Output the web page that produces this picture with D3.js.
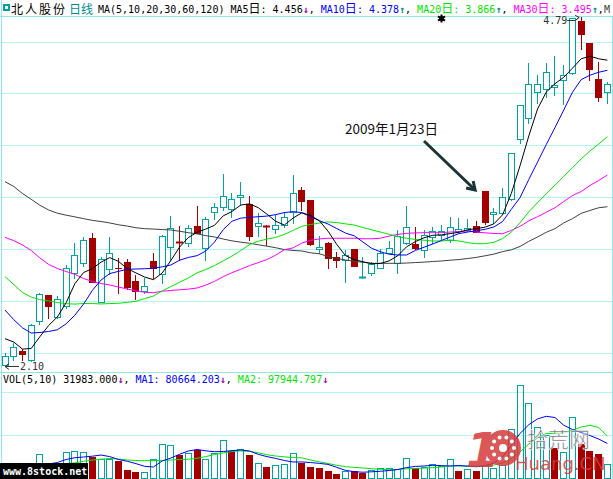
<!DOCTYPE html>
<html><head><meta charset="utf-8">
<script src="https://cdn.jsdelivr.net/npm/d3@7"></script>
<style>body{margin:0;background:#fff;}svg{display:block;}</style>
</head><body>
<svg id="c" width="613" height="479"></svg>
<script>
const stockName = "北人股份";
const periodName = "日线";
const maParams = "MA(5,10,20,30,60,120)";
const maLabels = ["MA5", "MA10", "MA20", "MA30"];
const maLast = ["4.456", "4.378", "3.866", "3.495"];
const maArrows = ["↓", "↑", "↑", "↑"];
const maMore = "M";
const volLabel = "VOL(5,10)";
const volLast = ["31983.000", "80664.203", "97944.797"];
const volNames = ["", "MA1", "MA2"];
const annotation = "2009年1月23日";
const annotIndex = 55;
const highLabel = "4.79", highIndex = 66;
const lowLabel = "2.10", lowIndex = 0;

const open  = [2.108,2.177,2.215,2.146,2.449,2.647,2.48,2.564,2.814,2.896,3.086,2.595,2.845,2.856,2.901,2.755,2.68,2.909,2.806,3.014,3.058,3.05,3.178,3.007,3.284,3.327,3.307,3.40,3.348,3.18,3.175,3.153,3.186,3.284,3.456,3.379,2.999,3.05,2.937,2.916,2.999,2.78,2.814,2.853,2.968,2.896,3.045,3.04,2.994,3.091,3.109,3.071,3.142,3.148,3.178,3.448,3.271,3.276,3.384,3.846,4.008,4.213,4.234,4.247,4.303,4.359,4.76,4.586,4.309,4.213];
const high  = [2.20,2.275,2.23,2.42,2.66,2.65,2.64,2.878,3.045,3.096,3.122,2.942,3.096,2.93,2.922,2.80,2.775,2.973,3.11,3.255,3.178,3.186,3.333,3.25,3.353,3.579,3.435,3.52,3.41,3.276,3.186,3.263,3.288,3.571,3.48,3.379,3.101,3.058,2.98,2.994,3.0,2.937,2.903,2.999,3.063,3.148,3.333,3.168,3.148,3.173,3.186,3.245,3.238,3.23,3.219,3.448,3.315,3.469,3.74,4.111,4.432,4.342,4.432,4.488,4.419,4.78,4.79,4.59,4.444,4.29];
const low   = [2.10,2.146,2.146,2.14,2.423,2.467,2.47,2.544,2.775,2.87,2.749,2.595,2.806,2.665,2.693,2.614,2.66,2.775,2.742,2.916,2.916,3.024,3.122,2.916,3.23,3.30,3.25,3.34,3.07,3.10,3.03,3.122,3.17,3.20,3.30,3.03,2.968,2.853,2.865,2.749,2.873,2.78,2.80,2.853,2.968,2.819,3.04,2.999,2.942,3.05,3.07,3.058,3.13,3.14,3.13,3.194,3.20,3.27,3.38,3.815,3.974,4.128,4.175,4.188,4.118,4.347,4.539,4.303,4.144,4.124];
const close = [2.177,2.249,2.195,2.416,2.652,2.564,2.614,2.853,2.955,3.071,2.749,2.922,2.968,2.853,2.711,2.68,2.716,2.853,3.101,3.165,3.05,3.165,3.122,3.232,3.327,3.41,3.384,3.417,3.101,3.20,3.17,3.184,3.25,3.43,3.371,3.04,3.014,2.934,2.916,2.955,2.873,2.783,2.883,2.968,3.007,3.101,3.168,3.011,3.109,3.142,3.142,3.168,3.155,3.16,3.135,3.212,3.289,3.40,3.738,4.111,4.272,4.272,4.362,4.265,4.342,4.78,4.657,4.386,4.175,4.272];

const ma5  = [2.31,2.285,2.23,2.235,2.326,2.412,2.478,2.587,2.734,2.82,2.85,2.90,2.935,2.906,2.85,2.817,2.785,2.765,2.816,2.913,3.016,3.09,3.13,3.155,3.184,3.257,3.29,3.34,3.349,3.32,3.27,3.215,3.186,3.24,3.28,3.26,3.219,3.139,3.037,2.95,2.92,2.903,2.888,2.89,2.91,2.95,3.018,3.058,3.088,3.107,3.11,3.12,3.13,3.15,3.158,3.17,3.195,3.265,3.43,3.644,3.872,4.08,4.21,4.275,4.324,4.394,4.467,4.487,4.467,4.456];
const ma10 = [2.531,2.457,2.394,2.354,2.358,2.366,2.379,2.425,2.491,2.577,2.682,2.762,2.812,2.829,2.845,2.847,2.849,2.853,2.864,2.878,2.915,2.936,2.95,2.986,3.055,3.151,3.215,3.239,3.245,3.25,3.255,3.266,3.282,3.289,3.282,3.25,3.22,3.194,3.159,3.124,3.103,3.055,3.007,2.98,2.961,2.955,2.955,2.99,3.015,3.04,3.067,3.094,3.12,3.132,3.142,3.153,3.171,3.213,3.307,3.398,3.537,3.671,3.806,3.937,4.072,4.209,4.306,4.34,4.363,4.378];
const ma20 = [2.788,2.728,2.666,2.631,2.611,2.601,2.589,2.580,2.577,2.581,2.581,2.578,2.581,2.583,2.590,2.598,2.619,2.639,2.678,2.712,2.745,2.778,2.818,2.843,2.874,2.910,2.947,2.989,3.035,3.061,3.077,3.091,3.114,3.145,3.176,3.190,3.201,3.210,3.205,3.195,3.186,3.167,3.149,3.132,3.115,3.096,3.084,3.075,3.069,3.063,3.063,3.071,3.063,3.050,3.042,3.042,3.053,3.082,3.132,3.204,3.288,3.358,3.426,3.493,3.560,3.627,3.695,3.756,3.810,3.866];
const ma30 = [3.091,3.066,3.032,2.990,2.932,2.883,2.851,2.828,2.806,2.774,2.751,2.735,2.724,2.708,2.693,2.678,2.668,2.664,2.676,2.682,2.687,2.692,2.701,2.723,2.752,2.788,2.819,2.845,2.873,2.896,2.920,2.954,2.995,3.010,3.047,3.068,3.079,3.084,3.084,3.084,3.084,3.080,3.080,3.084,3.101,3.114,3.122,3.125,3.127,3.127,3.127,3.132,3.135,3.140,3.132,3.126,3.121,3.119,3.145,3.176,3.218,3.250,3.284,3.319,3.367,3.413,3.444,3.490,3.529,3.571];
const ma60 = [3.520,3.483,3.429,3.384,3.338,3.302,3.277,3.262,3.249,3.235,3.222,3.213,3.202,3.188,3.178,3.165,3.158,3.155,3.151,3.148,3.138,3.127,3.118,3.104,3.094,3.078,3.064,3.054,3.046,3.034,3.023,3.011,2.997,2.990,2.986,2.972,2.964,2.945,2.928,2.917,2.906,2.899,2.891,2.891,2.891,2.891,2.893,2.897,2.900,2.905,2.909,2.915,2.920,2.928,2.937,2.949,2.962,2.981,2.995,3.021,3.060,3.094,3.130,3.158,3.202,3.235,3.276,3.298,3.319,3.327];

const volume = [23000,18700,18700,34300,56000,34300,30400,60700,63100,60000,48400,45100,45100,39700,18700,14000,14000,43700,79400,76400,53700,59100,65400,44400,59100,88100,63100,67000,53700,34300,25700,30400,32000,57700,35700,26400,22700,17100,9300,17100,15700,12400,18700,22700,22700,20300,46000,22700,25000,32000,28000,43700,17100,20300,17100,30400,22700,30400,113800,217200,174500,120000,100000,70000,60000,141800,80000,62000,55000,31983];
const volMa1 = [23400,22200,21000,23400,28000,32700,36200,43200,47400,49100,50900,53700,50000,43200,39200,33600,27300,25700,39700,46700,55600,63100,66600,63500,61400,61900,64000,65400,63100,55400,50000,45800,40900,37400,37400,36200,34100,31800,25000,17800,14700,13500,14500,15700,17500,19900,24300,27100,28000,29700,29000,28000,29200,27600,26400,29000,34600,49100,76400,104200,124500,138100,144100,141300,123300,113100,106300,99300,91100,80664];
const volMa2 = [28000,28000,26900,28000,30400,31500,32700,33900,35300,39000,41800,43900,45600,44400,42000,40900,40400,40600,41100,42000,43000,43700,46000,50000,54900,58600,61700,63300,62400,58900,54400,51400,49500,47700,47200,42000,37800,33900,29700,26600,24800,23400,21700,20300,19200,19600,21700,22400,23100,24100,25700,28000,28000,28000,28000,28000,30400,35000,45600,61200,79400,93400,104000,104400,106300,111400,119100,123100,118000,97945];

const priceTicks = [2.2, 2.6, 3.0, 3.4, 3.8, 4.2, 4.6];
const volTicks = [100000, 200000];

const C = {up:"#00a3a3", down:"#a50000", grid:"#b4f4f4", border:"#8ee8e8",
  ma:["#000000","#0000ff","#00e400","#ff00ff","#404040"], arrowDn:"#a000b0", arrowUp:"#008c8c"};
const MONO = "'DejaVu Sans Mono', monospace";
const CJK = "'Noto Sans CJK SC', sans-serif";

const svg = d3.select("#c");
const n = open.length;
const x = d3.scaleBand().domain(d3.range(n)).range([0.64, 611.74]).paddingInner(0.25).paddingOuter(0.125);
const cx = i => x(i) + x.bandwidth() / 2;
const y = d3.scaleLinear().domain([2.2, 4.6]).range([353, 41.5]);
const yv = d3.scaleLinear().domain([0, 250000]).range([478, 371]);
const r = v => Math.round(v);

// grid
svg.append("g").selectAll("line").data(priceTicks).join("line")
  .attr("x1", 1).attr("x2", 613).attr("y1", d => r(y(d)) + 0.5).attr("y2", d => r(y(d)) + 0.5)
  .attr("stroke", C.grid);
svg.append("g").selectAll("line").data(volTicks).join("line")
  .attr("x1", 1).attr("x2", 613).attr("y1", d => r(yv(d)) + 0.5).attr("y2", d => r(yv(d)) + 0.5)
  .attr("stroke", C.grid);
// borders
const bd = svg.append("g").attr("stroke", C.border).attr("fill", "none");
bd.append("line").attr("x1", 0).attr("x2", 613).attr("y1", 16.5).attr("y2", 16.5);
bd.append("line").attr("x1", 0).attr("x2", 613).attr("y1", 372.5).attr("y2", 372.5);
bd.append("line").attr("x1", 1.5).attr("x2", 1.5).attr("y1", 0).attr("y2", 479);
bd.append("line").attr("x1", 612.5).attr("x2", 612.5).attr("y1", 16).attr("y2", 479);

const maSeries = [ma60, ma30, ma20, ma10, ma5];
const maCols = [C.ma[4], C.ma[3], C.ma[2], C.ma[1], C.ma[0]];
const line = d3.line().x((d, i) => cx(i)).y(d => y(d));

// candles
const cg = svg.append("g");
d3.range(n).forEach(i => {
  const left = r(cx(i) - 3.5);
  const wx = left + 3.5;
  const isUp = close[i] >= open[i];
  const col = isUp ? C.up : C.down;
  const top = r(y(Math.max(open[i], close[i])));
  const bot = r(y(Math.min(open[i], close[i])));
  const yh = r(y(high[i])), yl = r(y(low[i]));
  if (bot - top < 2) {
    cg.append("line").attr("x1", wx).attr("x2", wx).attr("y1", yh).attr("y2", yl + 1).attr("stroke", col);
    cg.append("line").attr("x1", left).attr("x2", left + 7).attr("y1", top + 0.5).attr("y2", top + 0.5).attr("stroke", col).attr("stroke-width", bot - top + 1);
    return;
  }
  if (isUp) {
    if (yh < top) cg.append("line").attr("x1", wx).attr("x2", wx).attr("y1", yh).attr("y2", top).attr("stroke", col);
    if (yl > bot) cg.append("line").attr("x1", wx).attr("x2", wx).attr("y1", bot + 1).attr("y2", yl + 1).attr("stroke", col);
    cg.append("rect").attr("x", left + 0.5).attr("y", top + 0.5).attr("width", 6).attr("height", bot - top)
      .attr("fill", "#fff").attr("stroke", col);
  } else {
    cg.append("line").attr("x1", wx).attr("x2", wx).attr("y1", yh).attr("y2", yl + 1).attr("stroke", col);
    cg.append("rect").attr("x", left).attr("y", top).attr("width", 7).attr("height", bot - top + 1).attr("fill", col);
  }
});

svg.append("g").attr("fill", "none").selectAll("path").data(maSeries).join("path")
  .attr("d", line).attr("stroke", (d, k) => maCols[k]).attr("stroke-width", 1);

// volume bars
const vg = svg.append("g");
d3.range(n).forEach(i => {
  const left = r(cx(i) - 3.5);
  const isUp = i === 0 ? close[0] >= open[0] : close[i] >= close[i - 1];
  const top = r(yv(volume[i]));
  if (isUp) {
    vg.append("rect").attr("x", left + 0.5).attr("y", top + 0.5).attr("width", 6).attr("height", 478 - top)
      .attr("fill", "none").attr("stroke", C.up);
  } else {
    vg.append("rect").attr("x", left).attr("y", top).attr("width", 7).attr("height", 479 - top).attr("fill", C.down);
  }
});
const vline = d3.line().x((d, i) => cx(i)).y(d => yv(d));
svg.append("path").attr("d", vline(volMa2)).attr("fill", "none").attr("stroke", C.ma[2]);
svg.append("path").attr("d", vline(volMa1)).attr("fill", "none").attr("stroke", C.ma[1]);

// header
const hd = svg.append("g");
hd.append("rect").attr("x", 3).attr("y", 4).attr("width", 7).attr("height", 7).attr("fill", C.up);
hd.append("rect").attr("x", 5).attr("y", 6).attr("width", 3).attr("height", 3).attr("fill", "#fff");
hd.append("text").attr("x", 11).attr("y", 13.5).attr("font-family", CJK).attr("font-size", 12)
  .attr("letter-spacing", 2).attr("fill", "#000").text(stockName);
hd.append("text").attr("x", 69).attr("y", 13.5).attr("font-family", CJK).attr("font-size", 12)
  .attr("fill", C.arrowUp).text(periodName);
const ht = hd.append("text").attr("x", 98).attr("y", 13).attr("font-family", MONO).attr("font-size", 10);
ht.append("tspan").attr("fill", "#000").text(maParams + " ");
maLabels.forEach((m, k) => {
  const col = C.ma[k];
  ht.append("tspan").attr("fill", col).text(m);
  ht.append("tspan").attr("fill", col).attr("font-family", CJK).attr("font-size", 12).text("日");
  ht.append("tspan").attr("fill", col).text(": " + maLast[k]);
  ht.append("tspan").attr("fill", maArrows[k] === "↓" ? C.arrowDn : C.arrowUp).attr("font-weight", "bold").text(maArrows[k]);
  if (k < maLabels.length - 1) ht.append("tspan").attr("fill", "#000").text(", ");
  else ht.append("tspan").attr("fill", "#000").text(",");
});
hd.append("text").attr("x", 604).attr("y", 13).attr("font-family", MONO).attr("font-size", 10)
  .attr("fill", "#404040").text(maMore);

// volume header
const vt = svg.append("text").attr("x", 3).attr("y", 383).attr("font-family", MONO).attr("font-size", 10);
vt.append("tspan").attr("fill", "#000").text(volLabel + " ");
volLast.forEach((v, k) => {
  const col = k === 0 ? "#000" : C.ma[k];
  vt.append("tspan").attr("fill", col).text((volNames[k] ? volNames[k] + ": " : "") + v);
  vt.append("tspan").attr("fill", C.arrowDn).attr("font-weight", "bold").text("↓");
  if (k < 2) vt.append("tspan").attr("fill", "#000").text(", ");
});

// high / low markers
const hx = cx(highIndex), hy = y(high[highIndex]);
svg.append("text").attr("x", hx - 38).attr("y", 24).attr("font-family", MONO).attr("font-size", 10)
  .attr("fill", "#333").text(highLabel);
svg.append("path").attr("d", `M${hx-14},20.5 L${hx-6},20.5 L${hx-2},${hy+0.5}`).attr("fill", "none").attr("stroke", "#333");
svg.append("path").attr("d", `M${hx-6},${hy-1.5} L${hx-2},${hy+0.5} L${hx-5},${hy+3}`).attr("fill", "none").attr("stroke", "#333");
const lx = cx(lowIndex), ly = r(y(low[lowIndex])) + 0.5;
svg.append("path").attr("d", `M${lx},${ly} L${lx+14},${ly} M${lx+4},${ly-3} L${lx},${ly} L${lx+4},${ly+3}`)
  .attr("fill", "none").attr("stroke", "#333");
svg.append("text").attr("x", lx + 15).attr("y", 370).attr("font-family", MONO).attr("font-size", 10)
  .attr("fill", "#333").text(lowLabel);

// asterisk marker
const sym = d3.symbolAsterisk || d3.symbolCross;
svg.append("path").attr("transform", "translate(441.5,18.5)").attr("d", d3.symbol(sym).size(45)())
  .attr("stroke", "#000").attr("stroke-width", 2).attr("fill", "#000");
svg.append("circle").attr("cx", 441.5).attr("cy", 18.5).attr("r", 2.5).attr("fill", "#000");

// annotation
svg.append("text").attr("x", 345).attr("y", 134).attr("font-family", CJK).attr("font-size", 13.5)
  .attr("fill", "#111").text(annotation);
const ax = cx(annotIndex) - 10, ay = y(open[annotIndex]) - 1;
svg.append("line").attr("x1", 424).attr("y1", 141).attr("x2", ax).attr("y2", ay)
  .attr("stroke", "#1c3434").attr("stroke-width", 3);
svg.append("path").attr("d", `M${ax-9},${ay-2} L${ax},${ay} L${ax-2},${ay-9}`)
  .attr("fill", "none").attr("stroke", "#1c3434").attr("stroke-width", 3).attr("stroke-linejoin", "miter");

// watermarks
const wm = svg.append("g");
wm.append("rect").attr("x", 0).attr("y", 463).attr("width", 88).attr("height", 16).attr("fill", "#000");
wm.append("text").attr("x", 3).attr("y", 475).attr("font-family", MONO).attr("font-size", 10)
  .attr("font-weight", "bold").attr("fill", "#fff").text("www.8stock.net");
const w2 = svg.append("g").attr("opacity", 0.85);
w2.append("text").attr("x", 466).attr("y", 467).attr("font-family", "'DejaVu Sans', sans-serif")
  .attr("font-size", 48).attr("font-weight", "bold").attr("font-style", "italic").attr("fill", "#d63c3c").text("1");
w2.append("circle").attr("cx", 503).attr("cy", 448).attr("r", 18).attr("fill", "#d63c3c");
d3.range(10).forEach(k => {
  const a = k / 10 * Math.PI * 2;
  w2.append("circle").attr("cx", 503 + 11 * Math.cos(a)).attr("cy", 448 + 11 * Math.sin(a)).attr("r", 2).attr("fill", "#fff");
});
w2.append("circle").attr("cx", 503).attr("cy", 448).attr("r", 4).attr("fill", "#fff");
w2.append("text").attr("x", 527).attr("y", 447).attr("font-family", CJK).attr("font-size", 21)
  .attr("fill", "#555").attr("stroke", "#fff").attr("stroke-width", 0.6).text("拾荒网");
w2.append("text").attr("x", 515).attr("y", 470).attr("font-family", "'DejaVu Sans', sans-serif")
  .attr("font-size", 18).attr("fill", "#d63c3c").text("Huang.CN");
</script>
</body></html>
